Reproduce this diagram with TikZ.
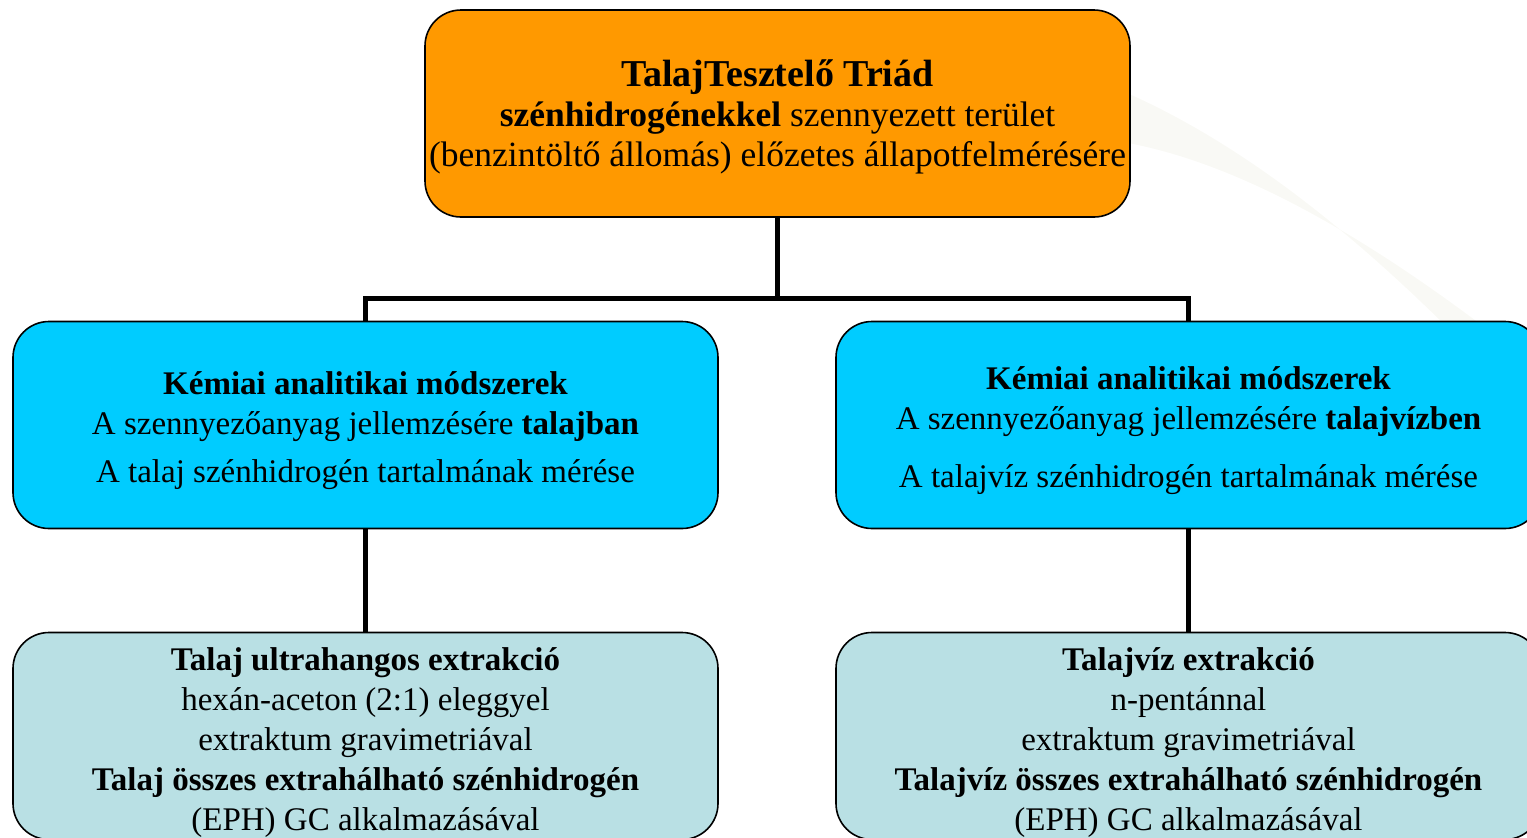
\documentclass[tikz,border=0pt]{standalone}
\usepackage{fontspec}
\setmainfont{Liberation Serif}
\usepackage{tikz}
\usetikzlibrary{positioning,calc}
\definecolor{triadOrange}{RGB}{255,153,0}
\definecolor{chemCyan}{RGB}{0,204,255}
\definecolor{extractPale}{RGB}{185,224,228}
\definecolor{swooshGray}{RGB}{249,249,245}
\newcommand{\upstrut}[1]{\rule{0pt}{#1}}

\begin{document}
\begin{tikzpicture}[x=1pt, y=-1pt,
    every node/.style={align=center, font=\fontsize{33}{40}\selectfont},
    box/.style={draw, line width=1.6pt, rounded corners=36pt,
      minimum width=705pt, minimum height=207pt, inner sep=0pt},
    link/.style={line width=5pt}
  ]
    \useasboundingbox (0,0) rectangle (1527,838);
    \clip (0,0) rectangle (1527,838);
    % faint background swoosh
    \fill[swooshGray] (1120,90) .. controls (1260,150) and (1380,260) .. (1460,340)
      -- (1527,360) .. controls (1400,260) and (1250,160) .. (1110,140) -- cycle;
    % boxes
    \node[box, fill=triadOrange] (top) at (777.5,113.5)
      {\fontsize{38}{44}\selectfont\upstrut{33pt}\textbf{TalajTesztelő Triád}\\
       \fontsize{35.5}{44}\selectfont\textbf{szénhidrogénekkel} szennyezett terület\\
       \fontsize{35.5}{44}\selectfont(benzintöltő állomás) előzetes állapotfelmérésére};
    \node[box, fill=chemCyan] (chemL) at (365.5,425)
      {\upstrut{34pt}\textbf{Kémiai analitikai módszerek}\\
       A szennyezőanyag jellemzésére \textbf{talajban}\\[8pt]
       A talaj szénhidrogén tartalmának mérése};
    \node[box, fill=chemCyan] (chemR) at (1188.5,425)
      {\upstrut{35pt}\textbf{Kémiai analitikai módszerek}\\
       A szennyezőanyag jellemzésére \textbf{talajvízben}\\[18pt]
       A talajvíz szénhidrogén tartalmának mérése};
    \node[box, fill=extractPale] (extL) at (365.5,736)
      {\upstrut{36pt}\textbf{Talaj ultrahangos extrakció}\\
       hexán-aceton (2:1) eleggyel\\
       extraktum gravimetriával\\
       \textbf{Talaj összes extrahálható szénhidrogén}\\
       (EPH) GC alkalmazásával};
    \node[box, fill=extractPale] (extR) at (1188.5,736)
      {\upstrut{36pt}\textbf{Talajvíz extrakció}\\
       n-pentánnal\\
       extraktum gravimetriával\\
       \textbf{Talajvíz összes extrahálható szénhidrogén}\\
       (EPH) GC alkalmazásával};
    % connectors
    \draw[link] (top.south) -- ++(0,81) coordinate (split);
    \draw[link] (split) -| (chemL.north);
    \draw[link] (split) -| (chemR.north);
    \draw[link] (chemL.south) -- (extL.north);
    \draw[link] (chemR.south) -- (extR.north);
\end{tikzpicture}
\end{document}
